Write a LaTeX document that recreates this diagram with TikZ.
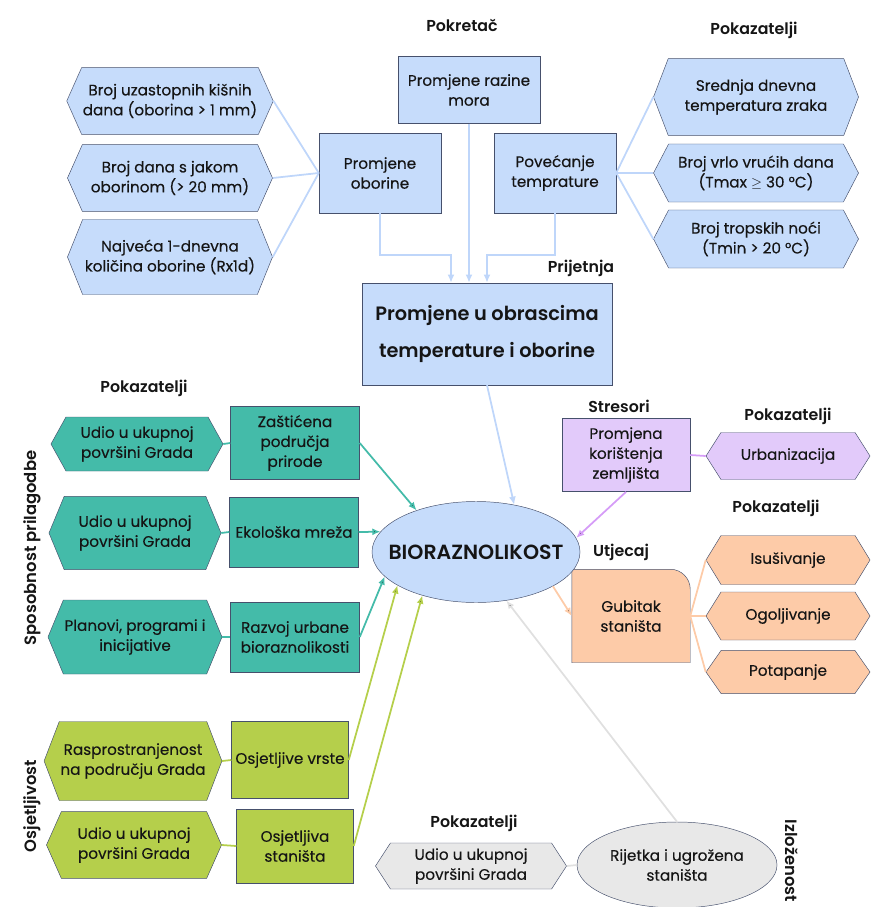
\documentclass[tikz,border=0pt]{standalone}
\usepackage{fontspec}
\setmainfont{Poppins}[FakeBold=0.25]
\newfontfamily\semibold{Poppins SemiBold}
\usetikzlibrary{shapes, arrows.meta, positioning, backgrounds}

\definecolor{blueFill}{HTML}{C6DCFB}
\definecolor{blueLine}{HTML}{BFD6FA}
\definecolor{tealFill}{HTML}{44BBA9}
\definecolor{greenFill}{HTML}{B5CF4B}
\definecolor{purpleFill}{HTML}{E2CAFA}
\definecolor{purpleLine}{HTML}{D59CF7}
\definecolor{orangeFill}{HTML}{FDCBA8}
\definecolor{grayFill}{HTML}{E8E8E8}
\definecolor{grayLine}{HTML}{E0E0E0}
\definecolor{edgeCol}{HTML}{46506C}
\definecolor{txtCol}{HTML}{151515}

\begin{document}
\begin{tikzpicture}[x=0.03cm, y=-0.03cm, >={Latex[length=7pt, width=6pt]}, text=txtCol]
		\tikzstyle{txt}=[font=\fontsize{13}{17}\selectfont, align=center, inner sep=1pt]
		\tikzstyle{hdr}=[font=\fontsize{13.5}{15}\selectfont\semibold]
		\tikzstyle{sidehdr}=[font=\fontsize{14}{15}\selectfont\semibold]
		\tikzstyle{box}=[rectangle, draw=edgeCol, thin, txt]
		\tikzset{hexa/.style={signal, signal to=east and west, signal pointer angle=#1, draw=edgeCol, thin, txt}, hexa/.default=130}
		\tikzstyle{bluelink}=[draw=blueLine, line width=1.5pt]
		\tikzstyle{teallink}=[draw=tealFill, line width=1.5pt]
		\tikzstyle{greenlink}=[draw=greenFill, line width=1.5pt]
		\tikzstyle{purplelink}=[draw=purpleLine, line width=1.5pt]
		\tikzstyle{orangelink}=[draw=orangeFill, line width=1.5pt]
		\tikzstyle{graylink}=[draw=grayLine, line width=1.5pt]

		\useasboundingbox (0,0) rectangle (870,907);

		\node[hdr] (lblPokretac) at (462,25) {Pokretač};
		\node[hdr] (lblPokTop) at (754,30) {Pokazatelji};
		\node[hdr] (lblPrijetnja) at (581,268) {Prijetnja};
		\node[hdr] (lblPokLeft) at (144,388) {Pokazatelji};
		\node[hdr] (lblStresori) at (619,406) {Stresori};
		\node[hdr] (lblPokUrb) at (788,416) {Pokazatelji};
		\node[hdr] (lblPokGub) at (776,508) {Pokazatelji};
		\node[hdr] (lblUtjecaj) at (621,552) {Utjecaj};
		\node[hdr] (lblPokBottom) at (474,823) {Pokazatelji};
		\node[sidehdr, rotate=90] (lblSposobnost) at (32,548) {Sposobnost prilagodbe};
		\node[sidehdr, rotate=90] (lblOsjetljivost) at (32,806) {Osjetljivost};
		\node[sidehdr, rotate=-90] (lblIzlozenost) at (792,861) {Izloženost};

		\node[box, fill=blueFill, minimum width=3.66cm, minimum height=2.4cm] (oborine) at (380,173) {Promjene\\oborine};
		\node[box, fill=blueFill, minimum width=4.26cm, minimum height=2.0cm] (mora) at (469,90) {Promjene razine\\mora};
		\node[box, fill=blueFill, minimum width=3.66cm, minimum height=2.4cm] (temp) at (555,173) {Povećanje\\temprature};

		\node[hexa=132, fill=blueFill, minimum width=6.15cm, minimum height=2.0cm] (kisniDani) at (170,101) {Broj uzastopnih kišnih\\dana (oborina > 1 mm)};
		\node[hexa=132, fill=blueFill, minimum width=6.15cm, minimum height=2.0cm] (jakaOborina) at (170,178) {Broj dana s jakom\\oborinom (> 20 mm)};
		\node[hexa=136, fill=blueFill, minimum width=6.15cm, minimum height=2.25cm] (rx1d) at (170,257) {Najveća 1-dnevna\\količina oborine (Rx1d)};

		\node[hexa=138, fill=blueFill, minimum width=6.15cm, minimum height=2.3cm] (srednja) at (756,97) {Srednja dnevna\\temperatura zraka};
		\node[hexa=125, fill=blueFill, minimum width=6.15cm, minimum height=1.74cm] (vruci) at (756,173) {Broj vrlo vrućih dana\\(Tmax $\geq$ 30 °C)};
		\node[hexa=125, fill=blueFill, minimum width=6.15cm, minimum height=1.74cm] (tropske) at (756,239) {Broj tropskih noći\\(Tmin > 20 °C)};

		\node[box, fill=blueFill, minimum width=7.5cm, minimum height=3.06cm, font=\fontsize{16.5}{32}\selectfont\semibold] (prijetnja) at (487,334) {Promjene u obrascima\\temperature i oborine};

		\node[ellipse, draw=edgeCol, thin, fill=blueFill, minimum width=6.24cm, minimum height=3.03cm, inner xsep=-2cm, font=\fontsize{17.5}{20}\selectfont\semibold] (bio) at (476,552) {BIORAZNOLIKOST};

		\node[hexa=122, fill=tealFill, minimum width=5.16cm, minimum height=1.62cm] (tealUdioA) at (137,444) {Udio u ukupnoj\\površini Grada};
		\node[box, fill=tealFill, minimum width=3.87cm, minimum height=2.2cm] (zasticena) at (295,443) {Zaštićena\\područja\\prirode};
		\node[hexa=135, fill=tealFill, minimum width=5.16cm, minimum height=2.2cm] (tealUdioB) at (135,533) {Udio u ukupnoj\\površini Grada};
		\node[box, fill=tealFill, minimum width=3.87cm, minimum height=2.1cm] (ekoloska) at (294,532) {Ekološka mreža};
		\node[hexa=135, fill=tealFill, minimum width=5.16cm, minimum height=2.22cm] (planovi) at (135,637) {Planovi, programi i\\inicijative};
		\node[box, fill=tealFill, minimum width=3.87cm, minimum height=2.1cm] (razvoj) at (295,637) {Razvoj urbane\\bioraznolikosti};

		\node[hexa=138, fill=greenFill, minimum width=5.25cm, minimum height=2.37cm] (rasprostr) at (133,761) {Rasprostranjenost\\na području Grada};
		\node[box, fill=greenFill, minimum width=3.51cm, minimum height=2.31cm] (vrste) at (290,760) {Osjetljive vrste};
		\node[hexa=132, fill=greenFill, minimum width=5.25cm, minimum height=2.0cm] (greenUdio) at (134,845) {Udio u ukupnoj\\površini Grada};
		\node[box, fill=greenFill, minimum width=3.51cm, minimum height=2.22cm] (stanista) at (295,846) {Osjetljiva\\staništa};

		\node[box, fill=purpleFill, minimum width=3.84cm, minimum height=2.2cm] (koristenje) at (626,455) {Promjena\\korištenja\\zemljišta};
		\node[hexa=115, fill=purpleFill, minimum width=4.92cm, minimum height=1.41cm] (urbanizacija) at (788,456) {Urbanizacija};

		\node[txt, minimum width=3.54cm, minimum height=2.79cm] (gubitak) at (631,616) {Gubitak\\staništa};
		\node[hexa=117, fill=orangeFill, minimum width=4.92cm, minimum height=1.47cm] (isusivanje) at (788,560) {Isušivanje};
		\node[hexa=116, fill=orangeFill, minimum width=4.92cm, minimum height=1.44cm] (ogoljivanje) at (788,616) {Ogoljivanje};
		\node[hexa=110, fill=orangeFill, minimum width=4.92cm, minimum height=1.3cm] (potapanje) at (788,672) {Potapanje};

		\node[hexa=114, fill=grayFill, minimum width=5.73cm, minimum height=1.38cm] (grayUdio) at (471,866) {Udio u ukupnoj\\površini Grada};
		\node[ellipse, draw=edgeCol, thin, fill=grayFill, minimum width=6.0cm, minimum height=2.58cm, txt, inner sep=0pt] (rijetka) at (677,865) {Rijetka i ugrožena\\staništa};

		\begin{scope}[on background layer]
			\filldraw[fill=orangeFill, draw=edgeCol, thin] (gubitak.south west) -- (gubitak.north west) -- ([xshift=-0.6cm]gubitak.north east) arc[start angle=90, end angle=0, radius=0.6cm] -- (gubitak.south east) -- cycle;
		\end{scope}

		\path[bluelink]
		(kisniDani.east) edge (oborine.west)
		(jakaOborina.east) edge (oborine.west)
		(rx1d.east) edge (oborine.west)
		(temp.east) edge (srednja.west)
		(temp.east) edge (vruci.west)
		(temp.east) edge (tropske.west);

		\draw[bluelink, ->] (oborine.south) -- ++(0,42) -| ([xshift=-1.08cm]prijetnja.north);
		\draw[bluelink, ->] (mora.south) -- (mora.south |- prijetnja.north);
		\draw[bluelink, ->] (temp.south) -- ++(0,42) -| (prijetnja.north);
		\draw[bluelink, ->] (prijetnja.south) -- (bio.51);

		\path[teallink]
		(tealUdioA.east) edge (zasticena.west)
		(tealUdioB.east) edge (ekoloska.west)
		(planovi.east) edge (razvoj.west)
		(zasticena.east) edge[->] (bio.145)
		(ekoloska.east) edge[->] (bio.168)
		(razvoj.east) edge[->] (bio.195);

		\path[greenlink]
		(rasprostr.east) edge (vrste.west)
		(greenUdio.east) edge (stanista.west)
		(vrste.east) edge[->] (bio.203)
		(stanista.east) edge[->] (bio.219);

		\path[purplelink]
		(koristenje.east) edge (urbanizacija.west)
		(koristenje.south) edge[->] (bio.8);

		\path[orangelink]
		(bio.336) edge[->] (gubitak.west)
		(gubitak.east) edge (isusivanje.west)
		(gubitak.east) edge (ogoljivanje.west)
		(gubitak.east) edge (potapanje.west);

		\path[graylink]
		(grayUdio.east) edge (rijetka.west)
		(rijetka.north) edge[->] (bio.302);
	\end{tikzpicture}
\end{document}
